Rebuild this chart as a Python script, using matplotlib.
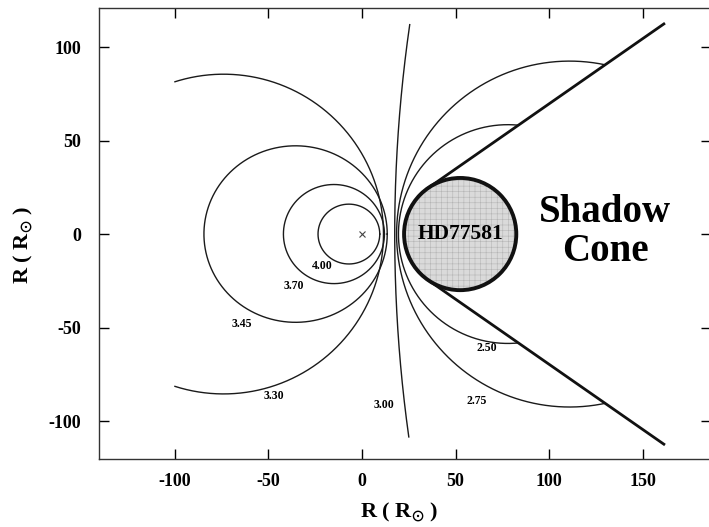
import numpy as np
import matplotlib
matplotlib.use('Agg')
import matplotlib.pyplot as plt
from matplotlib.patches import Circle

# contour curves on the X-ray source side (ellipse centre, half-width, half-height)
left_levels = ['4.00', '3.70', '3.45', '3.30']
left_cx = [-7.0, -15.0, -35.5, -74.0]
left_ax = [16.5, 27.0, 49.0, 85.5]
left_by = [16.0, 26.5, 47.2, 85.5]
left_xcut = [None, None, None, -100.0]   # 3.30 arc stops at x = -100

# the almost straight 3.00 curve (big circle arc)
mid_cx = 803.0
mid_r = 785.5
mid_ytop, mid_ybot = 112.0, -108.5

# contours on the star side, cut by the shadow cone
right_levels = ['2.75', '2.50']
right_cx = [111.0, 78.0]
right_r = [92.5, 58.5]

# companion star and shadow cone
star_x, star_r = 52.5, 30.0
cone_xend = 162.0
xray_x, xray_y = 0.0, 0.0

# contour label positions
label_text = ['4.00', '3.70', '3.45', '3.30', '3.00', '2.75', '2.50']
label_x = [-21.0, -36.5, -64.0, -47.0, 11.5, 61.5, 66.5]
label_y = [-17.3, -27.8, -48.3, -86.5, -91.4, -89.3, -61.0]

xticks = [-100, -50, 0, 50, 100, 150]
yticks = [-100, -50, 0, 50, 100]

plt.rcParams['font.family'] = ['Liberation Serif', 'DejaVu Serif']
plt.rcParams['font.weight'] = 'bold'
plt.rcParams['mathtext.fontset'] = 'stix'
plt.rcParams['hatch.linewidth'] = 0.4
plt.rcParams['axes.unicode_minus'] = False

fig = plt.figure(figsize=(7.09, 5.27), dpi=100)
ax = fig.add_axes([99 / 709, 68 / 527, 612 / 709, 451 / 527])
ax.set_xlim(-140.6, 186.6)
ax.set_ylim(-120.3, 120.9)

lc = '#1a1a1a'
lw = 1.0

# left family
for cx, a, b, xc in zip(left_cx, left_ax, left_by, left_xcut):
    if xc is None:
        t = np.linspace(0, 2 * np.pi, 400)
    else:
        t0 = np.arccos((xc - cx) / a)
        t = np.linspace(-t0, t0, 400)
    ax.plot(cx + a * np.cos(t), b * np.sin(t), color=lc, lw=lw)

# 3.00 curve
yy = np.linspace(mid_ybot, mid_ytop, 300)
ax.plot(mid_cx - np.sqrt(mid_r ** 2 - yy ** 2), yy, color=lc, lw=lw)

# shadow cone geometry
slope = np.tan(np.arcsin(star_r / (star_x - xray_x)))
theta = np.arctan(slope)
L = np.sqrt((star_x - xray_x) ** 2 - star_r ** 2)
tx, ty = xray_x + L * np.cos(theta), L * np.sin(theta)

# right family, cut where they meet the cone
for c, r in zip(right_cx, right_r):
    k = 1 + slope ** 2
    xi = (c + np.sqrt(c ** 2 - k * (c ** 2 - r ** 2))) / k
    phi = np.arctan2(slope * xi, xi - c)
    p = np.linspace(phi, 2 * np.pi - phi, 300)
    ax.plot(c + r * np.cos(p), r * np.sin(p), color=lc, lw=lw)

for sgn in (1, -1):
    ax.plot([tx, cone_xend], [sgn * ty, sgn * slope * cone_xend],
            color='#111111', lw=2.0, solid_capstyle='butt')

# star
ax.add_patch(Circle((star_x, 0), star_r, facecolor='#dadada', edgecolor='#b5b5b5',
                    lw=0, hatch='+++', zorder=3))
ax.add_patch(Circle((star_x, 0), star_r, facecolor='none', edgecolor='#111111',
                    lw=2.8, zorder=4))
ax.text(star_x, 0, 'HD77581', fontsize=15.5, fontweight='bold',
        ha='center', va='center', zorder=5)

ax.plot(xray_x, xray_y, marker='x', ms=4.5, mew=0.8, color='#444444')

for s, x, y in zip(label_text, label_x, label_y):
    ax.text(x, y, s, fontsize=8.5, fontweight='bold', ha='center', va='center')

ax.text(130, 1, 'Shadow\nCone', fontsize=28, fontweight='bold',
        ha='center', va='center', linespacing=1.05)

ax.set_xticks(xticks)
ax.set_yticks(yticks)
ax.tick_params(direction='in', top=True, right=True, length=7, width=1,
               labelsize=13)
ax.tick_params(axis='x', pad=10)
ax.tick_params(axis='y', pad=13)
for sp in ax.spines.values():
    sp.set_linewidth(1.0)
    sp.set_color('#333333')

fig.text(399 / 709, 1 - 512 / 527, r'R ( R$_{\odot}$ )', fontsize=16,
         fontweight='bold', ha='center', va='center')
fig.text(23 / 709, 1 - 245 / 527, r'R ( R$_{\odot}$ )', fontsize=16,
         fontweight='bold', ha='center', va='center', rotation=90)

fig.savefig('out.png', dpi=100)
